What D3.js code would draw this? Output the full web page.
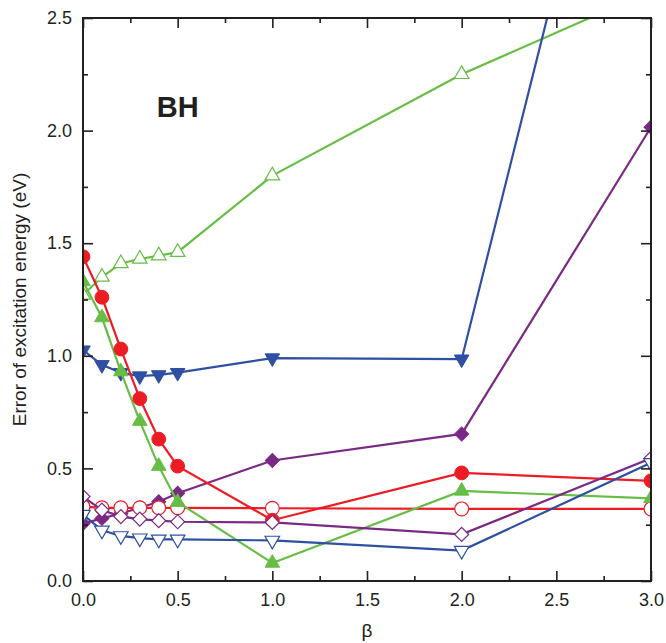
<!DOCTYPE html>
<html>
<head>
<meta charset="utf-8">
<script src="https://cdn.jsdelivr.net/npm/d3@7"></script>
<style>
  body { margin: 0; background: #fff; }
  svg text { font-family: "Liberation Sans", Arial, sans-serif; fill: #231f20; }
</style>
</head>
<body>
<div id="chart"></div>
<script>
// beta values shared by every series
var betas = [0, 0.1, 0.2, 0.3, 0.4, 0.5, 1.0, 2.0, 3.0];

// error of excitation energy (eV)
var redFilled    = [1.44, 1.26, 1.03, 0.81, 0.63, 0.51, 0.27, 0.48, 0.445];
var redOpen      = [0.33, 0.325, 0.325, 0.325, 0.325, 0.325, 0.323, 0.32, 0.32];
var greenFilled  = [1.33, 1.17, 0.93, 0.71, 0.51, 0.35, 0.08, 0.40, 0.367];
var greenOpen    = [1.27, 1.35, 1.41, 1.43, 1.445, 1.46, 1.80, 2.25, 2.62];
var blueFilled   = [1.025, 0.96, 0.925, 0.91, 0.915, 0.925, 0.99, 0.985, 4.34];
var blueOpen     = [0.295, 0.225, 0.20, 0.19, 0.185, 0.185, 0.18, 0.135, 0.525];
var purpleFilled = [0.255, 0.278, 0.30, 0.325, 0.352, 0.39, 0.535, 0.653, 2.015];
var purpleOpen   = [0.375, 0.315, 0.286, 0.275, 0.268, 0.263, 0.26, 0.207, 0.545];

var xTicks = [0, 0.5, 1.0, 1.5, 2.0, 2.5, 3.0];
var yTicks = [0, 0.5, 1.0, 1.5, 2.0, 2.5];
var xMinor = [0.25, 0.75, 1.25, 1.75, 2.25, 2.75];
var yMinor = [0.25, 0.75, 1.25, 1.75, 2.25];

var RED = "#ed1c24", GREEN = "#67bd45", BLUE = "#2e4fa2", PURPLE = "#7a2a84";

var series = [
    {values: greenOpen,    color: GREEN,  shape: "tri",     filled: false},
    {values: blueFilled,   color: BLUE,   shape: "tridown", filled: true},
    {values: purpleFilled, color: PURPLE, shape: "diamond", filled: true},
    {values: redOpen,      color: RED,    shape: "circle",  filled: false},
    {values: greenFilled,  color: GREEN,  shape: "tri",     filled: true},
    {values: redFilled,    color: RED,    shape: "circle",  filled: true},
    {values: purpleOpen,   color: PURPLE, shape: "diamond", filled: false},
    {values: blueOpen,     color: BLUE,   shape: "tridown", filled: false}
];

var width = 666, height = 643;
var margin = {top: 18, right: 15, bottom: 62, left: 83};
var w = width - margin.left - margin.right;
var h = height - margin.top - margin.bottom;

var svg = d3.select("#chart").append("svg")
    .attr("width", width)
    .attr("height", height);

var g = svg.append("g")
    .attr("transform", "translate(" + margin.left + "," + margin.top + ")");

var x = d3.scaleLinear().domain([0, 3]).range([0, w]);
var y = d3.scaleLinear().domain([0, 2.5]).range([h, 0]);

g.append("clipPath").attr("id", "plot-clip")
    .append("rect").attr("width", w).attr("height", h);

var plot = g.append("g").attr("clip-path", "url(#plot-clip)");

var line = d3.line()
    .x(function(d, i){ return x(betas[i]); })
    .y(function(d){ return y(d); });

function symbolFor(shape){
    if (shape == "circle") return d3.symbol().type(d3.symbolCircle).size(150);
    if (shape == "diamond") return d3.symbol().type(d3.symbolSquare).size(98);
    return d3.symbol().type(d3.symbolTriangle).size(92);
}

function rotation(shape){
    if (shape == "diamond") return 45;
    if (shape == "tridown") return 180;
    return 0;
}

series.forEach(function(s){
    plot.append("path")
        .datum(s.values)
        .attr("fill", "none")
        .attr("stroke", s.color)
        .attr("stroke-width", 2.2)
        .attr("d", line);

    plot.selectAll(null)
        .data(s.values)
        .enter()
        .append("path")
        .attr("d", symbolFor(s.shape))
        .attr("transform", function(d, i){
            return "translate(" + x(betas[i]) + "," + y(d) + ") rotate(" + rotation(s.shape) + ")";
        })
        .attr("fill", s.filled ? s.color : "#fff")
        .attr("stroke", s.color)
        .attr("stroke-width", s.filled ? 1 : 1.2);
});

// axes with inward ticks on all four sides
function styleAxis(sel){
    sel.select(".domain").remove();
    sel.selectAll("line").attr("stroke", "#231f20").attr("stroke-width", 1.6);
    sel.selectAll("text").attr("font-size", "18px").attr("fill", "#231f20")
        .style("font-family", "'Liberation Sans', Arial, sans-serif");
}

g.append("g").attr("transform", "translate(0," + h + ")")
    .call(d3.axisBottom(x).tickValues(xTicks).tickFormat(d3.format(".1f"))
        .tickSizeInner(-10).tickSizeOuter(0).tickPadding(12))
    .call(styleAxis);
g.append("g").attr("transform", "translate(0," + h + ")")
    .call(d3.axisBottom(x).tickValues(xMinor).tickFormat("").tickSizeInner(-5).tickSizeOuter(0))
    .call(styleAxis);
g.append("g")
    .call(d3.axisTop(x).tickValues(xTicks).tickFormat("").tickSizeInner(-10).tickSizeOuter(0))
    .call(styleAxis);
g.append("g")
    .call(d3.axisTop(x).tickValues(xMinor).tickFormat("").tickSizeInner(-5).tickSizeOuter(0))
    .call(styleAxis);

g.append("g")
    .call(d3.axisLeft(y).tickValues(yTicks).tickFormat(d3.format(".1f"))
        .tickSizeInner(-10).tickSizeOuter(0).tickPadding(11))
    .call(styleAxis);
g.append("g")
    .call(d3.axisLeft(y).tickValues(yMinor).tickFormat("").tickSizeInner(-5).tickSizeOuter(0))
    .call(styleAxis);
g.append("g").attr("transform", "translate(" + w + ",0)")
    .call(d3.axisRight(y).tickValues(yTicks).tickFormat("").tickSizeInner(-10).tickSizeOuter(0))
    .call(styleAxis);
g.append("g").attr("transform", "translate(" + w + ",0)")
    .call(d3.axisRight(y).tickValues(yMinor).tickFormat("").tickSizeInner(-5).tickSizeOuter(0))
    .call(styleAxis);

// frame
g.append("rect")
    .attr("width", w)
    .attr("height", h)
    .attr("fill", "none")
    .attr("stroke", "#231f20")
    .attr("stroke-width", 2);

// labels
g.append("text")
    .attr("x", x(0.39))
    .attr("y", y(2.06))
    .attr("font-size", "29px")
    .attr("font-weight", "bold")
    .text("BH");

svg.append("text")
    .attr("x", margin.left + w / 2)
    .attr("y", 637)
    .attr("text-anchor", "middle")
    .attr("font-size", "19px")
    .text("β");

svg.append("text")
    .attr("transform", "translate(26," + (margin.top + h / 2) + ") rotate(-90)")
    .attr("text-anchor", "middle")
    .attr("font-size", "19px")
    .text("Error of excitation energy (eV)");
</script>
</body>
</html>
